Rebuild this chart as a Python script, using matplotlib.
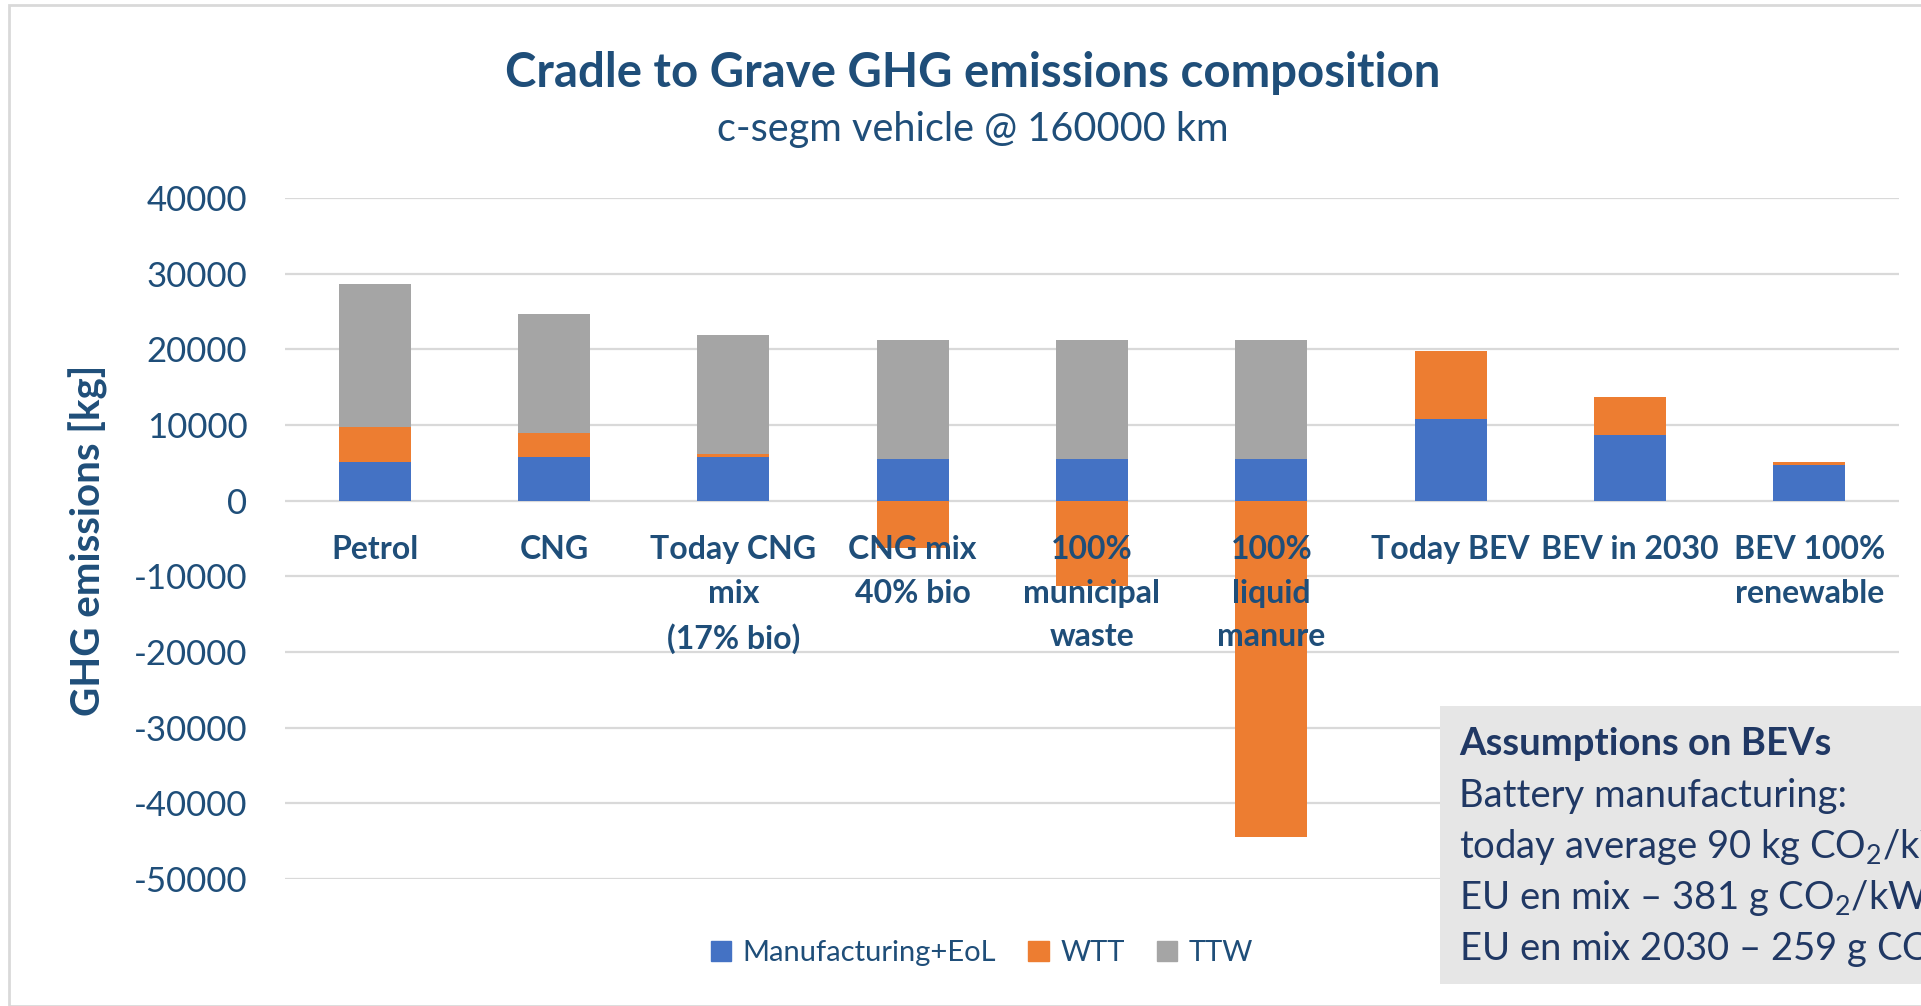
import matplotlib
matplotlib.use("Agg")
import matplotlib.pyplot as plt
import numpy as np
from matplotlib.patches import Patch, Rectangle

plt.rcParams["font.family"] = ["Lato", "DejaVu Sans"]
plt.rcParams["mathtext.fontset"] = "custom"
plt.rcParams["mathtext.rm"] = "Lato"
plt.rcParams["mathtext.it"] = "Lato:italic"
plt.rcParams["mathtext.bf"] = "Lato:bold"

CATEGORIAS = ["Petrol", "CNG", "Today CNG\nmix\n(17% bio)", "CNG mix\n40% bio",
              "100%\nmunicipal\nwaste", "100%\nliquid\nmanure", "Today BEV",
              "BEV in 2030", "BEV 100%\nrenewable"]
MANUF = [5100, 5800, 5800, 5500, 5500, 5500, 10800, 8700, 4700]
WTT = [4700, 3200, 400, -6200, -11300, -44400, 9000, 5000, 400]
TTW = [18900, 15700, 15700, 15700, 15700, 15700, 0, 0, 0]
YTICKS = [40000, 30000, 20000, 10000, 0, -10000, -20000, -30000, -40000, -50000]
SUPUESTOS = ["Battery manufacturing:",
             "today average 90 kg CO$_2$/kWh",
             "EU en mix – 381 g CO$_2$/kWh",
             "EU en mix 2030 – 259 g CO$_2$/kWh"]

AZUL = "#4472C4"
NARANJA = "#ED7D31"
GRIS = "#A5A5A5"
TXT = "#1F4E79"
W, H = 1921, 1006

fig = plt.figure(figsize=(W / 100, H / 100), dpi=100)
ax = fig.add_axes([285 / W, 1 - 879 / H, (1899 - 285) / W, (879 - 198) / H])

x = np.arange(len(CATEGORIAS))
m = np.array(MANUF)
w = np.array(WTT)
t = np.array(TTW)
ancho = 0.40
ax.bar(x, m, width=ancho, color=AZUL, zorder=2)
ax.bar(x, w, width=ancho, bottom=np.where(w > 0, m, 0), color=NARANJA, zorder=2)
ax.bar(x, t, width=ancho, bottom=m + np.clip(w, 0, None), color=GRIS, zorder=2)

ax.set_xlim(-0.5, len(CATEGORIAS) - 0.5)
ax.set_ylim(-50000, 40000)
ax.set_yticks(YTICKS)
ax.set_yticklabels([str(v) for v in YTICKS])
ax.tick_params(axis="y", length=0, pad=27, labelsize=25, labelcolor=TXT)
ax.set_xticks([])
ax.grid(axis="y", color="#D9D9D9", lw=1.6, zorder=0)
for s in ax.spines.values():
    s.set_visible(False)

for i, lab in enumerate(CATEGORIAS):
    ax.annotate(lab, (i, 0), xytext=(0, -34), textcoords="offset pixels",
                ha="center", va="top", fontsize=23, fontweight="bold",
                color=TXT, linespacing=1.62, zorder=4)

fig.text(88 / W, 1 - 540 / H, "GHG emissions [kg]", rotation=90, ha="center",
         va="center", fontsize=29, fontweight="bold", color=TXT)
fig.text(973 / W, 1 - 73 / H, "Cradle to Grave GHG emissions composition",
         ha="center", va="center", fontsize=34, fontweight="bold", color=TXT)
fig.text(973 / W, 1 - 130 / H, "c-segm vehicle @ 160000 km",
         ha="center", va="center", fontsize=28.5, color=TXT)

# leyenda
handles = [Patch(color=AZUL, label="Manufacturing+EoL"),
           Patch(color=NARANJA, label="WTT"),
           Patch(color=GRIS, label="TTW")]
leg = fig.legend(handles=handles, loc="center", bbox_to_anchor=(982 / W, 1 - 953 / H),
                 ncol=3, frameon=False, fontsize=21, handlelength=0.7, handleheight=0.7,
                 handletextpad=0.4, columnspacing=1.1)
for tx in leg.get_texts():
    tx.set_color(TXT)

# marco exterior
fig.patches.append(Rectangle((9 / W, 0), 1, 1 - 5 / H, transform=fig.transFigure,
                             fill=False, edgecolor="#D9D9D9", lw=2, zorder=1))

# cuadro de supuestos (cortado en el borde derecho, como en el original)
fig.patches.append(Rectangle((1440 / W, 1 - 984 / H), 1, (984 - 706) / H,
                             transform=fig.transFigure, facecolor="#E6E6E6",
                             edgecolor="none", zorder=5))
fig.text(1459 / W, 1 - 755 / H, "Assumptions on BEVs", fontsize=27.5,
         fontweight="bold", color="#203864", va="baseline", zorder=6)
for k, linea in enumerate(SUPUESTOS):
    fig.text(1459 / W, 1 - (807 + 51 * k) / H, linea, fontsize=27.5,
             color="#203864", va="baseline", zorder=6)

fig.savefig("out.png", dpi=100)
